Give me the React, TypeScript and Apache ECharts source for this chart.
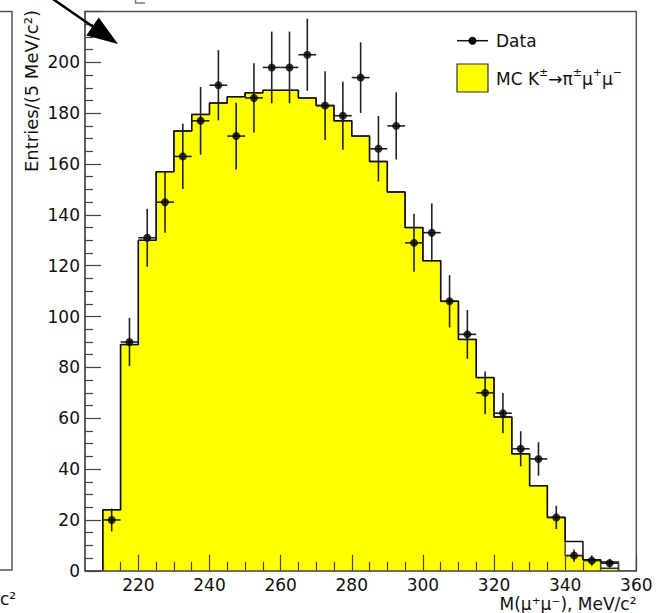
import React, { useEffect, useRef } from "react";
import * as echarts from "echarts";

// ---- data ----
const binLow = [210, 215, 220, 225, 230, 235, 240, 245, 250, 255, 260, 265, 270, 275, 280, 285, 290, 295, 300, 305, 310, 315, 320, 325, 330, 335, 340, 345, 350];
const mcTotal = [24, 89, 130, 157, 173, 179.5, 184, 186.5, 188, 189, 189, 186, 183, 177, 171, 161, 149, 135, 122, 106, 91, 76, 60.5, 46, 33.5, 21, 11.5, 4.3, 3.5];
const mcSignal = [24, 89, 130, 157, 173, 179.5, 184, 186.5, 188, 189, 189, 186, 183, 177, 171, 161, 149, 135, 122, 106, 91, 76, 60.5, 46, 33.5, 21, 6, 4.3, 1];
const dataX = [212.5, 217.5, 222.5, 227.5, 232.5, 237.5, 242.5, 247.5, 252.5, 257.5, 262.5, 267.5, 272.5, 277.5, 282.5, 287.5, 292.5, 297.5, 302.5, 307.5, 312.5, 317.5, 322.5, 327.5, 332.5, 337.5, 342.5, 347.5, 352.5];
const dataY = [20, 90, 131, 145, 163, 177, 191, 171, 186, 198, 198, 203, 183, 179, 194, 166, 175, 129, 133, 106, 93, 70, 62, 48, 44, 21, 6, 4, 3];
const dataErr = [4.5, 9.5, 11.4, 12, 12.8, 13.3, 13.8, 13.1, 13.6, 14.1, 14.1, 14.2, 13.5, 13.4, 13.9, 12.9, 13.2, 11.4, 11.5, 10.3, 9.6, 8.4, 7.9, 6.9, 6.6, 4.6, 2.4, 2, 1.7];
const xMajorTicks = [220, 240, 260, 280, 300, 320, 340, 360];
const xMinorTicks = [210, 215, 225, 230, 235, 245, 250, 255, 265, 270, 275, 285, 290, 295, 305, 310, 315, 325, 330, 335, 345, 350, 355];
const BIN_W = 5;

const FONT = '"DejaVu Sans", sans-serif';

function stepPoints(vals: number[]) {
  const pts: number[][] = [[binLow[0], 0]];
  binLow.forEach((x, i) => pts.push([x, vals[i]]));
  const last = binLow[binLow.length - 1] + BIN_W;
  pts.push([last, vals[vals.length - 1]]);
  pts.push([last, 0]);
  return pts;
}

export default function App() {
  const ref = useRef<HTMLDivElement>(null);
  useEffect(() => {
    if (!ref.current) return;
    const chart = echarts.init(ref.current, null, { renderer: "svg" });
    const tickStyle = { color: "#444", width: 1.2 };
    const option: any = {
      animation: false,
      grid: {
        left: 85,
        right: 19.7,
        top: 11.5,
        bottom: 42.2,
        show: true,
        borderColor: "#555",
        borderWidth: 1.5,
      },
      xAxis: [
        {
          type: "value",
          min: 205,
          max: 360,
          position: "bottom",
          z: 10,
          axisLine: { show: true, onZero: false, lineStyle: { color: "#555", width: 1.5 } },
          axisTick: { show: true, inside: true, length: 16, customValues: xMajorTicks, lineStyle: tickStyle },
          axisLabel: { customValues: xMajorTicks, margin: 5.5, fontSize: 17, fontFamily: FONT, color: "#111" },
          splitLine: { show: false },
        },
        {
          type: "value",
          min: 205,
          max: 360,
          position: "bottom",
          z: 10,
          axisLine: { show: false, onZero: false },
          axisTick: { show: true, inside: true, length: 9, customValues: xMinorTicks, lineStyle: tickStyle },
          axisLabel: { show: false },
          splitLine: { show: false },
        },
      ],
      yAxis: {
        type: "value",
        min: 0,
        max: 220,
        interval: 20,
        z: 10,
        axisLine: { show: true, lineStyle: { color: "#555", width: 1.5 } },
        axisTick: { show: true, inside: true, length: 16, lineStyle: tickStyle },
        minorTick: { show: true, splitNumber: 4, length: 8, lineStyle: tickStyle },
        axisLabel: {
          formatter: (v: number) => (v > 200 ? "" : String(v)),
          margin: 5,
          fontSize: 17,
          fontFamily: FONT,
          color: "#111",
        },
        splitLine: { show: false },
        minorSplitLine: { show: false },
      },
      series: [
        {
          type: "line",
          step: "end",
          data: stepPoints(mcSignal),
          showSymbol: false,
          symbol: "none",
          lineStyle: { color: "#333", width: 1.3 },
          areaStyle: { color: "#ffff00", opacity: 1 },
          z: 2,
        },
        {
          type: "line",
          step: "end",
          data: stepPoints(mcTotal),
          showSymbol: false,
          symbol: "none",
          lineStyle: { color: "#111", width: 1.5 },
          z: 3,
        },
        {
          type: "custom",
          data: dataX.map((x, i) => [x, dataY[i], dataErr[i]]),
          encode: { x: 0, y: 1 },
          z: 4,
          renderItem: (params: any, api: any) => {
            const x = api.value(0);
            const y = api.value(1);
            const e = api.value(2);
            const top = api.coord([x, y + e]);
            const bot = api.coord([x, y - e]);
            const l = api.coord([x - BIN_W / 2, y]);
            const r = api.coord([x + BIN_W / 2, y]);
            return {
              type: "group",
              children: [
                { type: "line", shape: { x1: top[0], y1: top[1], x2: bot[0], y2: bot[1] }, style: { stroke: "#222", lineWidth: 1.6 } },
                { type: "line", shape: { x1: l[0], y1: l[1], x2: r[0], y2: r[1] }, style: { stroke: "#222", lineWidth: 1.6 } },
              ],
            };
          },
        },
        {
          type: "scatter",
          data: dataX.map((x, i) => [x, dataY[i]]),
          symbol: "circle",
          symbolSize: 8,
          itemStyle: { color: "#000" },
          z: 5,
        },
      ],
      graphic: [
        // remnants of the neighbouring panel
        { type: "polyline", z: 100, shape: { points: [[0, 11.5], [12, 11.5], [12, 570], [0, 570]] }, style: { stroke: "#555", lineWidth: 1.5, fill: null } },
        { type: "polyline", z: 100, shape: { points: [[135.5, 0], [135.5, 3], [145, 3]] }, style: { stroke: "#777", lineWidth: 1.5, fill: null } },
        { type: "text", z: 100, x: 0, y: 599, style: { text: "c²", fontSize: 17, fontFamily: FONT, fill: "#111", align: "left", verticalAlign: "middle" } },
        // arrow
        { type: "line", z: 100, shape: { x1: 50, y1: -3, x2: 93, y2: 26.8 }, style: { stroke: "#000", lineWidth: 2.5 } },
        { type: "polygon", z: 100, shape: { points: [[118, 44], [86.3, 35.4], [98.7, 17.4]] }, style: { fill: "#000" } },
        // axis titles
        { type: "text", z: 100, x: 31, y: 10, rotation: Math.PI / 2, style: { text: "Entries/(5 MeV/c²)", fontSize: 18, fontFamily: FONT, fill: "#111", align: "right", verticalAlign: "middle" } },
        { type: "text", z: 100, x: 636.5, y: 604, style: { text: "M(μ⁺μ⁻), MeV/c²", fontSize: 17, fontFamily: FONT, fill: "#111", align: "right", verticalAlign: "middle" } },
        // legend
        { type: "line", z: 100, shape: { x1: 457, y1: 40.7, x2: 488, y2: 40.7 }, style: { stroke: "#111", lineWidth: 1.5 } },
        { type: "circle", z: 100, shape: { cx: 472.5, cy: 40.7, r: 4 }, style: { fill: "#000" } },
        { type: "text", z: 100, x: 496, y: 41, style: { text: "Data", fontSize: 17, fontFamily: FONT, fill: "#111", align: "left", verticalAlign: "middle" } },
        { type: "rect", z: 100, shape: { x: 457, y: 64, width: 31, height: 28 }, style: { fill: "#ffff00", stroke: "#333", lineWidth: 1.2 } },
        {
          type: "text",
          z: 100,
          x: 496,
          y: 79,
          style: {
            text: "{a|MC K}{s|±}{a|→π}{s|±}{a|μ}{s|+}{a|μ}{s|−}",
            align: "left",
            verticalAlign: "middle",
            fill: "#111",
            rich: {
              a: { fontSize: 17, fontFamily: FONT, fill: "#111" },
              s: { fontSize: 11, fontFamily: FONT, fill: "#111", padding: [0, 0, 14, 0] },
            },
          },
        },
      ],
    };
    chart.setOption(option);
    return () => chart.dispose();
  }, []);
  return <div ref={ref} style={{ position: "absolute", left: 0, top: 0, width: 656, height: 613 }} />;
}
